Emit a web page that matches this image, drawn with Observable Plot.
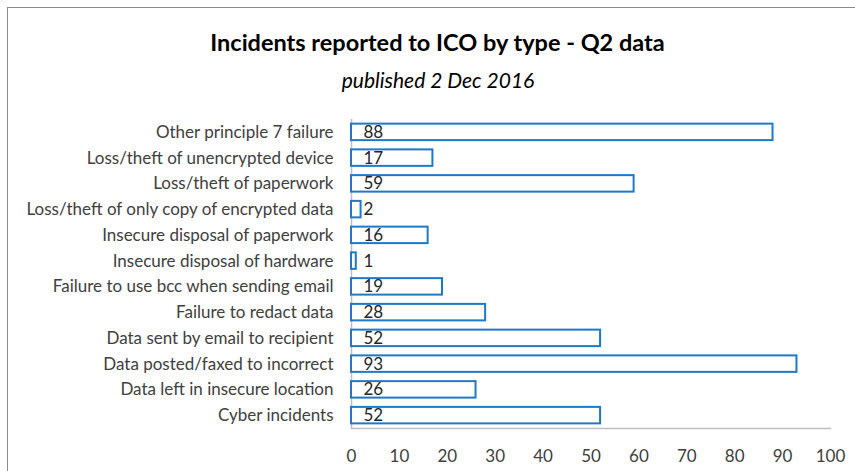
<!DOCTYPE html>
<html><head><meta charset="utf-8">
<script src="https://cdn.jsdelivr.net/npm/d3@7"></script>
<script src="https://cdn.jsdelivr.net/npm/@observablehq/plot@0.6"></script>
<style>
html,body{margin:0;padding:0;background:#fff;width:855px;height:471px;overflow:hidden;font-family:Lato,sans-serif;}
#frame{position:absolute;left:7px;top:7px;width:900px;height:500px;border-top:1px solid #8c8c8c;border-left:1px solid #8c8c8c;}
#title{position:absolute;left:0;width:875px;top:27px;text-align:center;font-weight:bold;font-size:23.5px;color:#000;line-height:30px;}
#subtitle{position:absolute;left:0;width:876px;top:66px;text-align:center;font-style:italic;font-size:21px;color:#000;line-height:28px;}
#chart{position:absolute;left:0;top:100px;}
</style></head>
<body>
<div id="frame"></div>
<div id="title">Incidents reported to ICO by type - Q2 data</div>
<div id="subtitle">published 2 Dec 2016</div>
<div id="chart"></div>
<script>
const categories = [
  "Other principle 7 failure",
  "Loss/theft of unencrypted device",
  "Loss/theft of paperwork",
  "Loss/theft of only copy of encrypted data",
  "Insecure disposal of paperwork",
  "Insecure disposal of hardware",
  "Failure to use bcc when sending email",
  "Failure to redact data",
  "Data sent by email to recipient",
  "Data posted/faxed to incorrect",
  "Data left in insecure location",
  "Cyber incidents"
];
const values = [88, 17, 59, 2, 16, 1, 19, 28, 52, 93, 26, 52];
const xTicks = [0, 10, 20, 30, 40, 50, 60, 70, 80, 90, 100];

const data = categories.map((c, i) => ({category: c, value: values[i]}));

const chart = Plot.plot({
  width: 855,
  height: 371,
  marginLeft: 351,
  marginRight: 25,
  marginTop: 19,
  marginBottom: 43,
  style: {fontFamily: "Lato, sans-serif", fontSize: "17px", color: "#404040", background: "transparent", overflow: "visible"},
  x: {domain: [0, 100], ticks: xTicks},
  y: {domain: categories, paddingInner: 0.36, paddingOuter: 0.18, round: false},
  marks: [
    Plot.axisX({ticks: xTicks, tickSize: 0, tickPadding: 21, label: null, fontSize: 17, fill: "#404040"}),
    Plot.axisY({tickSize: 0, tickPadding: 18, label: null, fontSize: 17, fill: "#404040"}),
    Plot.ruleX([0], {stroke: "#bfbfbf", strokeWidth: 1.5}),
    Plot.frame({anchor: "bottom", stroke: "#bfbfbf", strokeWidth: 1.5}),
    Plot.barX(data, {x: "value", y: "category", fill: "white", stroke: "#1f78c8", strokeWidth: 2}),
    Plot.text(data, {x: 0, y: "category", text: d => String(d.value), dx: 12, textAnchor: "start", fontSize: 17, fill: "#262626"})
  ]
});
document.getElementById("chart").appendChild(chart);
</script>
</body></html>
